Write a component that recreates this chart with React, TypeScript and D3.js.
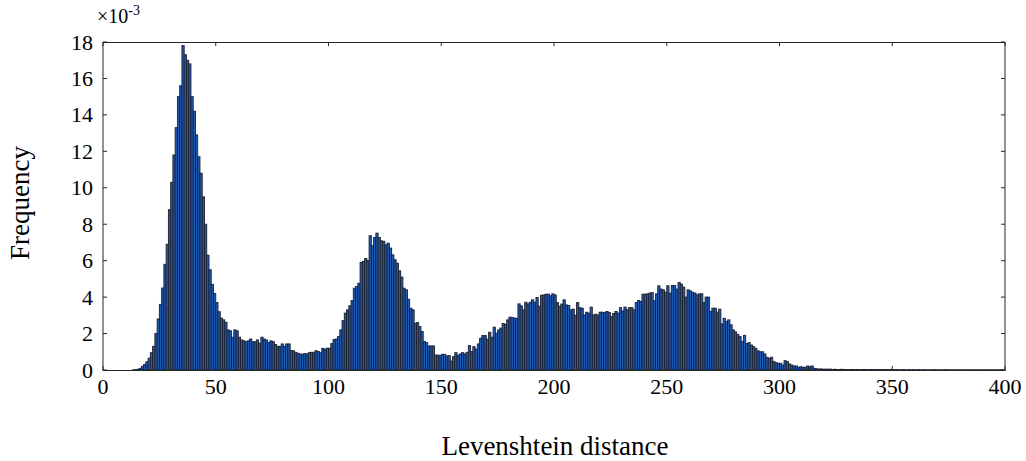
import React from "react";
import * as d3 from "d3";

// Histogram of Levenshtein distances, bin width 1, values in units of 1e-3
const binStart = 0;
const binWidth = 1;
const frequency: number[] = [
  // 0-19
  0, 0, 0, 0, 0, 0, 0, 0, 0, 0, 0, 0, 0, 0.01, 0.02, 0.04, 0.09, 0.2, 0.3, 0.45,
  // 20-39
  0.65, 0.95, 1.3, 2.0, 2.8, 3.6, 4.5, 5.8, 6.9, 8.8, 10.3, 11.8, 13.3, 15.0, 15.6, 17.8, 17.3, 17.0, 16.8, 15.0,
  // 40-59
  14.2, 12.9, 11.7, 10.8, 9.5, 8.0, 6.3, 5.5, 4.7, 4.2, 3.7, 3.2, 2.85, 2.75, 2.62, 2.2, 2.15, 1.8, 2.2, 2.15,
  // 60-79
  1.8, 1.65, 1.6, 1.55, 1.6, 1.7, 1.55, 1.55, 1.65, 1.47, 1.8, 1.7, 1.65, 1.5, 1.6, 1.55, 1.4, 1.3, 1.3, 1.43,
  // 80-99
  1.3, 1.43, 1.43, 1.07, 1.05, 0.97, 0.92, 0.88, 0.86, 0.9, 0.88, 0.95, 0.97, 0.97, 1.06, 1.01, 0.95, 1.19, 1.14, 1.2,
  // 100-119
  1.19, 1.45, 1.67, 1.7, 1.83, 2.2, 2.71, 3.12, 3.3, 3.52, 3.81, 4.49, 4.58, 4.76, 5.9, 5.96, 6.12, 6.01, 7.37, 6.82,
  // 120-139
  7.27, 7.51, 7.27, 7.09, 7.06, 6.87, 6.96, 6.69, 6.32, 6.05, 5.86, 5.44, 5.1, 4.49, 4.4, 3.88, 3.39, 3.3, 2.57, 2.6,
  // 140-159
  2.38, 2.11, 1.56, 1.5, 1.32, 1.32, 1.32, 0.82, 0.82, 0.79, 0.86, 0.86, 0.77, 0.79, 0.49, 0.73, 0.95, 0.81, 0.88, 0.95,
  // 160-179
  0.88, 0.97, 1.34, 1.01, 1.28, 1.15, 1.43, 1.74, 1.89, 1.89, 1.69, 2.07, 1.8, 2.35, 2.02, 2.2, 2.3, 2.55, 2.5, 2.75,
  // 180-199
  2.9, 2.88, 2.85, 2.84, 3.63, 3.52, 3.3, 3.72, 3.63, 3.72, 3.85, 3.72, 3.98, 3.5, 4.1, 4.12, 4.16, 4.16, 4.07, 4.18,
  // 200-219
  4.12, 3.7, 3.5, 3.62, 3.85, 3.57, 3.54, 3.3, 3.34, 3.0, 3.7, 3.42, 3.39, 3.02, 3.17, 3.12, 3.45, 3.02, 3.06, 3.02,
  // 220-239
  3.17, 3.17, 3.15, 3.21, 3.15, 2.93, 3.1, 3.21, 3.12, 3.42, 3.24, 3.45, 3.3, 3.42, 3.42, 3.3, 3.7, 3.81, 3.76, 4.16,
  // 240-259
  4.16, 4.18, 4.22, 4.25, 3.81, 4.18, 4.62, 4.44, 4.4, 4.27, 4.62, 4.22, 4.64, 4.64, 4.44, 4.8, 4.71, 4.55, 4.0, 4.4,
  // 260-279
  4.34, 4.27, 4.22, 4.12, 4.18, 4.18, 3.7, 4.0, 4.0, 3.21, 3.39, 3.39, 3.17, 3.34, 2.53, 2.84, 2.66, 2.75, 2.48, 2.2,
  // 280-299
  2.09, 1.95, 1.83, 1.55, 1.9, 1.45, 1.5, 1.37, 1.28, 1.19, 1.05, 1.0, 1.0, 0.88, 0.7, 0.64, 0.7, 0.46, 0.4, 0.37,
  // 300-319
  0.37, 0.27, 0.51, 0.46, 0.33, 0.27, 0.22, 0.22, 0.15, 0.18, 0.15, 0.15, 0.22, 0.18, 0.22, 0.09, 0.07, 0.05, 0.06, 0.04,
  // 320-339
  0.05, 0.04, 0.05, 0.03, 0.04, 0.03, 0.03, 0.04, 0.03, 0.03, 0.02, 0.03, 0.03, 0.02, 0.03, 0.02, 0.02, 0.03, 0.02, 0.02,
  // 340-359
  0.03, 0.02, 0.02, 0.02, 0.03, 0.02, 0.02, 0.02, 0.02, 0.03, 0.02, 0.02, 0.02, 0.01, 0.02, 0.02, 0.01, 0.02, 0.01, 0.02,
  // 360-379
  0.01, 0.02, 0.01, 0.01, 0.02, 0.01, 0.01, 0.01, 0.02, 0.01, 0.01, 0.01, 0.01, 0.02, 0.01, 0.01, 0.01, 0.01, 0.01, 0.01,
  // 380-399
  0.01, 0.01, 0.01, 0.01, 0.01, 0.01, 0.01, 0.01, 0.01, 0.01, 0.01, 0.01, 0.01, 0.01, 0.01, 0.01, 0.01, 0.01, 0.01, 0.01,
];

const xTicks = [0, 50, 100, 150, 200, 250, 300, 350, 400];
const yTicks = [0, 2, 4, 6, 8, 10, 12, 14, 16, 18];
const xLabel = "Levenshtein distance";
const yLabel = "Frequency";

const W = 1026;
const H = 461;
const left = 103;
const right = 1005;
const top = 42;
const bottom = 370;
const font = "'Liberation Serif', 'Times New Roman', serif";
const axisColor = "#262626";

export default function App() {
  const x = d3.scaleLinear().domain([0, 400]).range([left, right]);
  const y = d3.scaleLinear().domain([0, 18]).range([bottom, top]);
  const tickLen = 4;

  return (
    <svg
      width={W}
      height={H}
      style={{ position: "absolute", left: 0, top: 0, display: "block", background: "#fff" }}
    >
      <rect x={0} y={0} width={W} height={H} fill="#fff" />
      {/* bars */}
      <g>
        {frequency.map((v, i) => {
          const x0 = x(binStart + i * binWidth);
          const x1 = x(binStart + (i + 1) * binWidth);
          const y0 = y(v);
          return (
            <rect
              key={i}
              x={x0}
              y={y0}
              width={x1 - x0}
              height={y(0) - y0}
              fill="#1f5cb8"
              stroke="#1b1f2d"
              strokeWidth={0.9}
            />
          );
        })}
      </g>
      {/* box */}
      <rect
        x={left}
        y={top + 0.5}
        width={right - left}
        height={bottom - top}
        fill="none"
        stroke={axisColor}
        strokeWidth={1}
      />
      {/* x ticks */}
      {xTicks.map((t) => (
        <g key={"xt" + t}>
          <line x1={x(t)} x2={x(t)} y1={bottom} y2={bottom - tickLen} stroke={axisColor} />
          <line x1={x(t)} x2={x(t)} y1={top} y2={top + tickLen} stroke={axisColor} />
          <text
            x={x(t)}
            y={394}
            textAnchor="middle"
            fontFamily={font}
            fontSize={22}
            fill="#000"
          >
            {t}
          </text>
        </g>
      ))}
      {/* y ticks */}
      {yTicks.map((t) => (
        <g key={"yt" + t}>
          <line x1={left} x2={left + tickLen} y1={y(t)} y2={y(t)} stroke={axisColor} />
          <line x1={right} x2={right - tickLen} y1={y(t)} y2={y(t)} stroke={axisColor} />
          <text
            x={93}
            y={y(t)}
            textAnchor="end"
            dominantBaseline="central"
            fontFamily={font}
            fontSize={22}
            fill="#000"
          >
            {t}
          </text>
        </g>
      ))}
      {/* exponent */}
      <text x={97} y={23} fontFamily={font} fontSize={20} fill="#000">
        ×10
        <tspan fontSize={14} dy={-8}>-3</tspan>
      </text>
      {/* axis labels */}
      <text
        x={555}
        y={455}
        textAnchor="middle"
        fontFamily={font}
        fontSize={27}
        fill="#000"
      >
        {xLabel}
      </text>
      <text
        transform="translate(29,203) rotate(-90)"
        textAnchor="middle"
        fontFamily={font}
        fontSize={27}
        fill="#000"
      >
        {yLabel}
      </text>
    </svg>
  );
}
